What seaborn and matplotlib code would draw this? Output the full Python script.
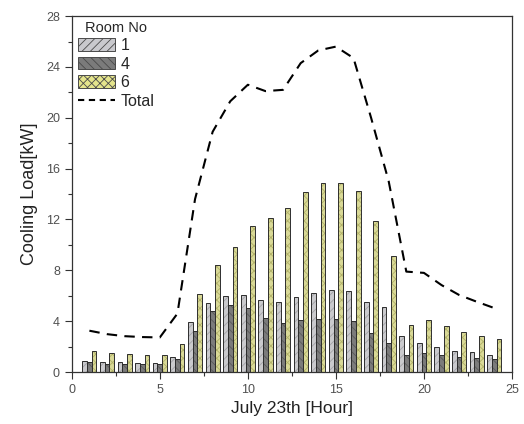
import numpy as np
import pandas as pd
import matplotlib
matplotlib.use("Agg")
import matplotlib.pyplot as plt
from matplotlib.patches import Patch, Rectangle
from matplotlib.lines import Line2D
from matplotlib.ticker import MultipleLocator
import seaborn as sns

# Hourly cooling load on July 23rd [kW]
hours = list(range(1, 25))
room_1 = [0.87, 0.79, 0.76, 0.71, 0.71, 1.18, 3.93, 5.45, 5.98, 6.08, 5.66, 5.50,
          5.93, 6.24, 6.45, 6.40, 5.53, 5.14, 2.83, 2.31, 1.97, 1.68, 1.55, 1.36]
room_4 = [0.76, 0.65, 0.63, 0.60, 0.60, 1.02, 3.25, 4.80, 5.27, 5.06, 4.28, 3.83,
          4.06, 4.14, 4.20, 4.04, 3.04, 2.25, 1.31, 1.47, 1.31, 1.21, 1.10, 1.00]
room_6 = [1.63, 1.47, 1.39, 1.37, 1.37, 2.23, 6.16, 8.42, 9.86, 11.49, 12.09, 12.88,
          14.14, 14.87, 14.87, 14.24, 11.88, 9.10, 3.67, 4.09, 3.62, 3.15, 2.86, 2.62]
total = [3.25, 2.98, 2.82, 2.75, 2.72, 4.6, 13.6, 18.9, 21.3, 22.6, 22.1, 22.2,
         24.3, 25.3, 25.6, 24.7, 20.0, 15.0, 7.9, 7.8, 6.84, 6.06, 5.53, 5.03]
rooms = ["1", "4", "6"]

room_colors = {"1": "#c9c9cd", "4": "#7b7b7b", "6": "#e4e48c"}
hatch_colors = {"1": "#a2a2a6", "4": "#595959", "6": "#b0b068"}
hatches = {"1": "////", "4": "\\\\\\\\", "6": "xxxx"}

bars = pd.DataFrame({
    "hour": hours * 3,
    "load": room_1 + room_4 + room_6,
    "room": [r for r in rooms for _ in hours],
})
line = pd.DataFrame({"hour": hours, "total": total})

sns.set_style("ticks")
plt.rcParams["font.family"] = ["Liberation Sans", "DejaVu Sans"]
plt.rcParams["hatch.linewidth"] = 0.6

fig = plt.figure(figsize=(5.24, 4.24), dpi=100)
ax = fig.add_axes([0.137, 0.1226, 0.84, 0.8394])

sns.barplot(data=bars, x="hour", y="load", hue="room", hue_order=rooms,
            palette=room_colors, native_scale=True, width=0.8, dodge=True,
            errorbar=None, legend=False, ax=ax)

# Each container holds one room's bars: hatch them and add a dark outline
for room, cont in zip(rooms, ax.containers):
    for p in cont.patches:
        p.set_hatch(hatches[room])
        p.set_edgecolor(hatch_colors[room])
        p.set_linewidth(0)
        ax.add_patch(Rectangle(p.get_xy(), p.get_width(), p.get_height(),
                               fill=False, ec="#2e2e2e", lw=0.7, zorder=p.get_zorder() + 0.1))

sns.lineplot(data=line, x="hour", y="total", color="black", lw=1.5,
             linestyle=(0, (5, 3.5)), ax=ax)

ax.set_xlim(0, 25)
ax.set_ylim(0, 28)
ax.xaxis.set_major_locator(MultipleLocator(5))
ax.xaxis.set_minor_locator(MultipleLocator(2.5))
ax.yaxis.set_major_locator(MultipleLocator(4))
ax.yaxis.set_minor_locator(MultipleLocator(2))
ax.tick_params(which="major", direction="out", length=5, width=0.8,
               labelsize=9, labelcolor="#505050", color="#333333")
ax.tick_params(which="minor", direction="out", length=3, width=0.8, color="#333333")
for s in ax.spines.values():
    s.set_visible(True)
    s.set_color("#333333")
    s.set_linewidth(0.9)

ax.set_xlabel("July 23th [Hour]", fontsize=12.5, color="#222222", labelpad=4)
ax.set_ylabel("Cooling Load[kW]", fontsize=13, color="#222222", labelpad=6)

handles = [Patch(facecolor=room_colors[r], edgecolor="#4a4a4a", hatch=hatches[r], lw=0.7)
           for r in rooms]
handles.append(Line2D([], [], color="black", lw=1.5, linestyle=(0, (3, 2.2))))
leg = ax.legend(handles, rooms + ["Total"], title="Room No", loc="upper left",
                bbox_to_anchor=(-0.005, 1.01), frameon=False, fontsize=11.5,
                title_fontsize=10.5, handlelength=2.35, handleheight=0.85,
                labelspacing=0.22, handletextpad=0.35, borderaxespad=0.3,
                borderpad=0.2)

fig.savefig("out.png", dpi=100)
